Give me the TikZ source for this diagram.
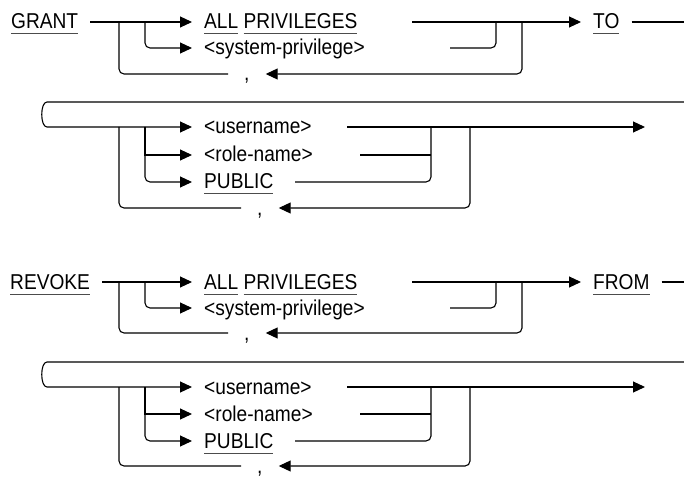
\documentclass[tikz,border=0pt]{standalone}
\usepackage{fontspec}
\setmainfont{Liberation Sans}[FakeStretch=0.89]
\usetikzlibrary{arrows.meta}
\newcommand{\kw}[1]{\setbox0\hbox{#1}\rlap{\color{black!70}\rule[-5.5pt]{\wd0}{1pt}}\box0\relax}
\begin{document}
\begin{tikzpicture}[x=1pt, y=-1pt,
    txt/.style={anchor=west, inner xsep=12pt, inner ysep=0pt, text height=14pt, text depth=0pt, font=\fontsize{21.5}{25}\selectfont},
    sep/.style={txt, inner xsep=16pt},
    rail/.style={line width=1.1pt, rounded corners=5pt},
    tip/.style={-{Triangle[length=12pt,width=11pt]}}]
        \useasboundingbox (0,0) rectangle (684,478);

        % GRANT
        \node[txt] (grant) at (-1,22) {\kw{GRANT}};
        \node[txt] (gall) at (192,22) {\kw{ALL} \kw{PRIVILEGES}};
        \node[txt] (gsys) at (192,48) {<system-privilege>};
        \node[txt] (gto) at (581,22) {\kw{TO}};
        \node[sep] (gsep) at (228,74) {,};
        \coordinate (gfork1) at (119,22);
        \coordinate (gfork2) at (145,22);
        \coordinate (gallend) at (412,22);
        \coordinate (gsysend) at (450,48);
        \coordinate (gjoin1) at (496,22);
        \coordinate (gjoin2) at (522,22);
        \coordinate (gend) at (684,22);

        \draw[rail, tip] (grant) -- (gall);
        \draw[rail, tip] (gfork2) |- (gsys);
        \draw[rail] (gfork1) |- (gsep);
        \draw[rail, tip] (gallend) -- (gto);
        \draw[rail] (gsysend) -| (gjoin1);
        \draw[rail, tip] (gjoin2) |- (gsep);
        \draw[rail] (gto) -- (gend);

        \node[txt] (gusr) at (192,127) {<username>};
        \node[txt] (grole) at (192,155) {<role-name>};
        \node[txt] (gpub) at (192,182) {\kw{PUBLIC}};
        \node[sep] (gsep2) at (241,208) {,};
        \coordinate (gtop) at (684,102);
        \coordinate (gtopl) at (47,102);
        \coordinate (gbotl) at (47,127);
        \coordinate (gfork3) at (119,127);
        \coordinate (gfork4) at (145,127);
        \coordinate (gusrend) at (347,127);
        \coordinate (groleend) at (360,155);
        \coordinate (grolejoin) at (431,155);
        \coordinate (gpubend) at (295,182);
        \coordinate (gjoin3) at (431,127);
        \coordinate (gjoin4) at (470,127);
        \coordinate (gout) at (645,127);

        \draw[rail, sharp corners, tip] (gtop) -- (gtopl) .. controls +(-7,0) and +(-7,0) .. (gbotl) -- (gusr);
        \draw[rail, sharp corners, tip] (gfork4) |- (grole);
        \draw[rail, tip] (gfork4) |- (gpub);
        \draw[rail] (gfork3) |- (gsep2);
        \draw[rail, tip] (gusrend) -- (gout);
        \draw[rail] (groleend) -- (grolejoin);
        \draw[rail] (gpubend) -| (gjoin3);
        \draw[rail, tip] (gjoin4) |- (gsep2);

        % REVOKE
        \node[txt] (revoke) at (-2,282) {\kw{REVOKE}};
        \node[txt] (rall) at (192,282) {\kw{ALL} \kw{PRIVILEGES}};
        \node[txt] (rsys) at (192,308) {<system-privilege>};
        \node[txt] (rfrom) at (581,282) {\kw{FROM}};
        \node[sep] (rsep) at (228,333) {,};
        \coordinate (rfork1) at (119,282);
        \coordinate (rfork2) at (145,282);
        \coordinate (rallend) at (412,282);
        \coordinate (rsysend) at (450,308);
        \coordinate (rjoin1) at (496,282);
        \coordinate (rjoin2) at (522,282);
        \coordinate (rend) at (684,282);

        \draw[rail, tip] (revoke) -- (rall);
        \draw[rail, tip] (rfork2) |- (rsys);
        \draw[rail] (rfork1) |- (rsep);
        \draw[rail, tip] (rallend) -- (rfrom);
        \draw[rail] (rsysend) -| (rjoin1);
        \draw[rail, tip] (rjoin2) |- (rsep);
        \draw[rail] (rfrom) -- (rend);

        \node[txt] (rusr) at (192,387) {<username>};
        \node[txt] (rrole) at (192,414) {<role-name>};
        \node[txt] (rpub) at (192,441) {\kw{PUBLIC}};
        \node[sep] (rsep2) at (241,466) {,};
        \coordinate (rtop) at (684,362);
        \coordinate (rtopl) at (47,362);
        \coordinate (rbotl) at (47,387);
        \coordinate (rfork3) at (119,387);
        \coordinate (rfork4) at (145,387);
        \coordinate (rusrend) at (347,387);
        \coordinate (rroleend) at (360,414);
        \coordinate (rrolejoin) at (431,414);
        \coordinate (rpubend) at (295,441);
        \coordinate (rjoin3) at (431,387);
        \coordinate (rjoin4) at (470,387);
        \coordinate (rout) at (645,387);

        \draw[rail, sharp corners, tip] (rtop) -- (rtopl) .. controls +(-7,0) and +(-7,0) .. (rbotl) -- (rusr);
        \draw[rail, sharp corners, tip] (rfork4) |- (rrole);
        \draw[rail, tip] (rfork4) |- (rpub);
        \draw[rail] (rfork3) |- (rsep2);
        \draw[rail, tip] (rusrend) -- (rout);
        \draw[rail] (rroleend) -- (rrolejoin);
        \draw[rail] (rpubend) -| (rjoin3);
        \draw[rail, tip] (rjoin4) |- (rsep2);
    \end{tikzpicture}
\end{document}
